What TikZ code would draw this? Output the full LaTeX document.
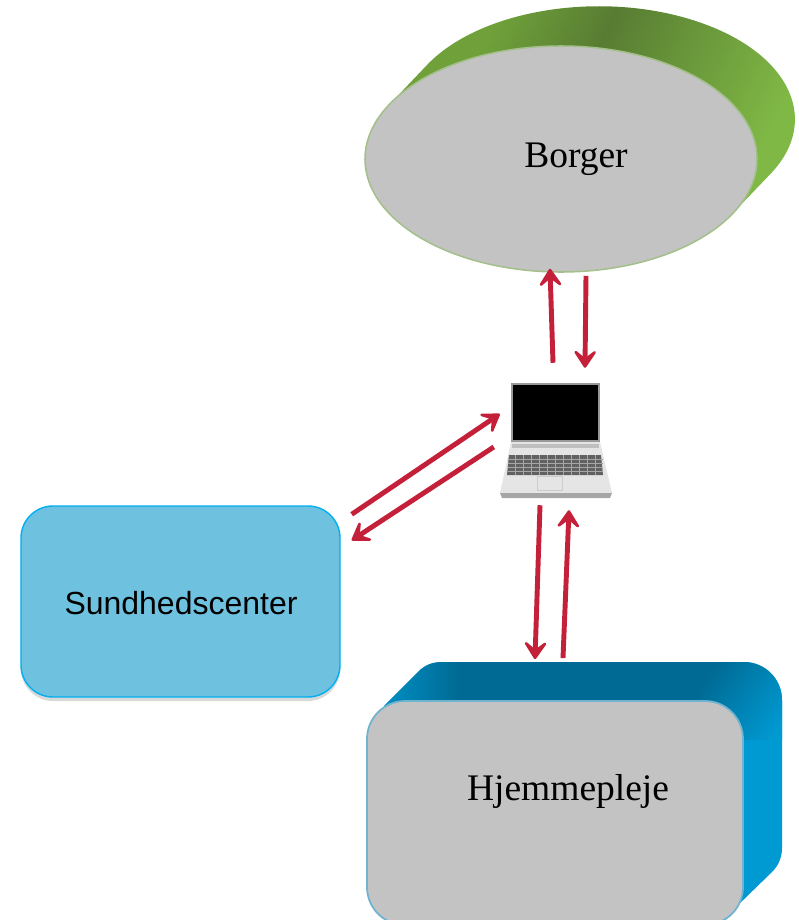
\documentclass[tikz,border=0pt]{standalone}
\usepackage{fontspec}
\setmainfont{Liberation Serif}
\newfontfamily\labelsans{Liberation Sans}
\usetikzlibrary{shapes.geometric,arrows.meta,shadows}
\definecolor{flowred}{HTML}{C4203A}
\definecolor{greenlight}{HTML}{7FB845}
\definecolor{greenmid}{HTML}{6FA03A}
\definecolor{greendark}{HTML}{587C32}
\definecolor{greenedge}{HTML}{A3C08A}
\definecolor{facegray}{HTML}{C3C3C3}
\definecolor{bluedark}{HTML}{006A94}
\definecolor{bluelight}{HTML}{009AD2}
\definecolor{blueedge}{HTML}{6FB3D0}
\definecolor{centerfill}{HTML}{6FC1E0}
\definecolor{centeredge}{HTML}{00B0F0}
\pgfdeclarehorizontalshading{greenband}{100bp}{color(0bp)=(greenmid); color(32bp)=(greenmid);
  color(46bp)=(greendark); color(72bp)=(greenlight); color(100bp)=(greenlight)}
\tikzset{
    every edge/.append style={line width=4.2pt, color=flowred,
    	-{Stealth[length=6.8mm,width=9mm,inset=3.6mm,round,line width=2.2pt]}}
}
\tikzset{
    bubble/.style={ellipse, draw=greenedge, fill=facegray, line width=1.3pt,
    	inner sep=0pt, minimum width=11.76cm, minimum height=6.78cm},
    centerbox/.style={rectangle, rounded corners=.96cm, draw=centeredge, fill=centerfill,
    	line width=1.2pt, inner sep=0pt, minimum width=9.57cm, minimum height=5.73cm,
    	drop shadow={shadow xshift=0cm,shadow yshift=-.12cm,opacity=.3}},
    carebox/.style={rectangle, rounded corners=1.14cm, draw=blueedge, fill=facegray,
    	line width=1.5pt, inner sep=0pt, minimum width=11.28cm, minimum height=6.72cm},
    serifname/.style={inner sep=0pt, font=\fontsize{32}{36}\selectfont},
    sansname/.style={inner sep=0pt, font=\labelsans\fontsize{27.3}{32}\selectfont},
    laptopbox/.style={rectangle, inner sep=0pt, minimum width=3.6cm, minimum height=4.26cm}
}

\begin{document}
\begin{tikzpicture}[x=.03cm,y=.03cm]
  \useasboundingbox (0,0) rectangle (798,-920);
  \clip (0,0) rectangle (798,-920);

  % citizen, back of the disc first
  \path [shading=greenband, shading angle=-25]
    (389,-105) -- (427,-65) arc [start angle=151.3, end angle=-28.7, x radius=196, y radius=113]
    -- (733,-213) -- cycle;
  \node (borger) [bubble] at (561,-159) {};
  \node (borgertext) [serifname] at (576,-159) {Borger};

  % home care, back of the box first
  \path [fill=bluelight]
    (384,-706) -- (420,-670) .. controls (427,-664) and (434,-662) .. (443,-662)
    -- (744,-662) arc [start angle=90, end angle=0, radius=38]
    -- (782,-848) .. controls (782,-858) and (778,-866) .. (772,-872)
    -- (735,-908) -- (600,-800) -- cycle;
  \path [left color=bluelight!75!bluedark, right color=bluedark]
    (384,-706) -- (420,-670) .. controls (427,-664) and (434,-662) .. (443,-662) -- (460,-662) -- (460,-706) -- cycle;
  \path [fill=bluedark] (460,-662) -- (735,-662) -- (708,-703) -- (460,-706) -- cycle;
  \begin{scope}
    \clip (700,-662) -- (744,-662) arc [start angle=90, end angle=0, radius=38] -- (782,-740) -- (743,-740) -- (700,-703) -- cycle;
    \path [left color=bluedark, right color=bluelight, shading angle=55]
      (700,-655) rectangle (790,-745);
  \end{scope}
  \node (hjemmepleje) [carebox] at (555,-813) {};
  \node (hjemmetext) [serifname] at (568,-791) {Hjemmepleje};

  \node (sundhed) [centerbox] at (180.5,-601.5) {};
  \node (sundhedtext) [sansname] at (181,-603) {Sundhedscenter};

  % laptop
  \node (laptop) [laptopbox] at (555,-436) {};
  \fill [black!40] (511,-383) rectangle (600,-442);
  \fill [black] (513,-385) rectangle (598,-440);
  \fill [black!10] (511,-442) -- (600,-442) -- (612,-493) -- (500,-493) -- cycle;
  \fill [black!35] (500,-493) -- (612,-493) -- (610,-498) -- (502,-498) -- cycle;
  \fill [black!25] (512,-444) rectangle (599,-448);
  \fill [black!62] (509,-455) -- (601,-455) -- (603,-475) -- (507,-475) -- cycle;
  \foreach \row in {459,463,467,471}
    \draw [black!35, line width=.4pt] (508,-\row) -- (603,-\row);
  \foreach \col in {515,523,...,599}
    \draw [black!35, line width=.4pt] (\col,-455) -- (\col,-475);
  \draw [black!20, line width=.5pt] (537,-476) rectangle (562,-490);

  \draw ([shift={(-2,2)}]laptop.north) edge ([shift={(-11,4)}]borger.south);
  \draw ([shift={(25,-3)}]borger.south) edge ([shift={(30,-3)}]laptop.north);
  \draw ([shift={(11,-9)}]sundhed.north east) edge ([shift={(5,22)}]laptop.west);
  \draw ([shift={(-1,-11)}]laptop.west) edge ([shift={(11,-35)}]sundhed.north east);
  \draw ([shift={(-15,2)}]laptop.south) edge ([shift={(-20,41)}]hjemmepleje.north);
  \draw ([shift={(8,42)}]hjemmepleje.north) edge ([shift={(14,-3)}]laptop.south);
\end{tikzpicture}
\end{document}
